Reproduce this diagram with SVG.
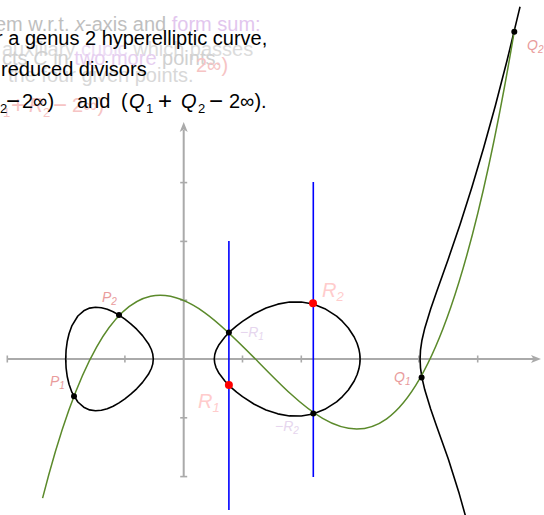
<svg xmlns="http://www.w3.org/2000/svg" width="544" height="515" viewBox="0 0 544 515">
<style>
.ax{stroke:#aaaaaa;stroke-width:2;fill:none}
.tk{stroke:#aaaaaa;stroke-width:1.6}
.arr{fill:#aaaaaa}
.crv{stroke:#000;stroke-width:1.6;fill:none;stroke-linejoin:round}
.cub{stroke:#5b8a2b;stroke-width:1.5;fill:none}
.vl{stroke:#0000ff;stroke-width:1.6}
.dot{fill:#000}
.red{fill:#ff0000}
.t{font-family:"Liberation Sans",Arial,sans-serif;font-size:20px}
.it{font-style:italic}
.sub{font-size:13px}
.op{font-size:24px}
.lb{font-family:"Liberation Sans",Arial,sans-serif;font-style:italic}
.pq{fill:#e99c9c;font-size:14px}
.rr{fill:#ffcccc;font-size:20px}
.mr{fill:#e6d6ee;font-size:14px}
</style>
<rect width="544" height="515" fill="#fff"/>

<g id="caption">
  <text class="t" x="-5" y="31" fill="#bfbfbf">em w.r.t. <tspan class="it">x</tspan>-axis and <tspan fill="#e2c6ee">form sum:</tspan></text>
  <text class="t" x="2" y="56" fill="#dcdcdc">auxiliary <tspan fill="#ecdcf4">cubic</tspan> which passes</text>
  <text class="t" x="2" y="65" fill="#d0d0d0">cts <tspan class="it">C</tspan> in <tspan fill="#e6cef0">two more</tspan> points.</text>
  <text class="t" x="8" y="82" fill="#d8d8d8">the four given points.</text>
  <text class="t" x="196" y="72" fill="#f6c4c4">2∞)</text>
  <g fill="#f6c4c4">
    <text class="t sub" x="3" y="117">1</text>
    <text class="t op" x="11" y="113">+</text>
    <text class="t it" x="29" y="112">R</text>
    <text class="t sub" x="43" y="117">2</text>
    <text class="t op" x="53" y="113">−</text>
    <text class="t" x="72" y="112">2∞)</text>
  </g>
  <text class="t" x="-4" y="45" fill="#000">r a genus 2 hyperelliptic curve,</text>
  <text class="t" x="1" y="76" fill="#000">reduced divisors</text>
  <g fill="#000">
    <text class="t sub" x="0" y="113">2</text>
    <text class="t op" x="6" y="109">−</text>
    <text class="t" x="22" y="108">2∞)</text>
    <text class="t" x="77" y="108">and</text>
    <text class="t" x="121" y="108">(</text>
    <text class="t it" x="129" y="108">Q</text>
    <text class="t sub" x="146" y="113">1</text>
    <text class="t op" x="158" y="109">+</text>
    <text class="t it" x="181" y="108">Q</text>
    <text class="t sub" x="198" y="113">2</text>
    <text class="t op" x="209" y="109">−</text>
    <text class="t" x="229" y="108">2∞).</text>
  </g>
</g>

<g id="axes">
  <line class="ax" x1="7.3" y1="359" x2="534" y2="359"/>
  <path class="arr" d="M541 359 L531 355 L533.5 359 L531 363 Z"/>
  <line class="ax" x1="183.7" y1="476.6" x2="183.7" y2="130"/>
  <path class="arr" d="M183.7 122 L179.7 132 L183.7 129.5 L187.7 132 Z"/>
  <g class="tk">
    <line x1="7.3" y1="355.5" x2="7.3" y2="362.5"/>
    <line x1="66.1" y1="355.5" x2="66.1" y2="362.5"/>
    <line x1="124.9" y1="355.5" x2="124.9" y2="362.5"/>
    <line x1="242.5" y1="355.5" x2="242.5" y2="362.5"/>
    <line x1="301.3" y1="355.5" x2="301.3" y2="362.5"/>
    <line x1="360.1" y1="355.5" x2="360.1" y2="362.5"/>
    <line x1="418.9" y1="355.5" x2="418.9" y2="362.5"/>
    <line x1="477.7" y1="355.5" x2="477.7" y2="362.5"/>
    <line x1="180.2" y1="182.6" x2="187.2" y2="182.6"/>
    <line x1="180.2" y1="241.4" x2="187.2" y2="241.4"/>
    <line x1="180.2" y1="300.2" x2="187.2" y2="300.2"/>
    <line x1="180.2" y1="417.8" x2="187.2" y2="417.8"/>
    <line x1="180.2" y1="476.6" x2="187.2" y2="476.6"/>
  </g>
</g>

<g id="connectors">
  <line id="vline1" class="vl" x1="228.9" y1="241" x2="228.9" y2="510"/>
  <line id="vline2" class="vl" x1="313.3" y1="182" x2="313.3" y2="477"/>
  <path id="oval-left" class="crv" d="M67.28 376.8 Q64.12 359 67.28 341.2 L69.04 333.7 L71.98 325.6 L77.86 316.0 L83.74 310.8 L89.62 308.1 L95.5 307.2 L101.38 307.7 L107.26 309.3 L113.14 311.8 L119.02 315.1 L124.9 319.1 L130.78 323.8 L136.66 329.2 L142.54 335.6 L148.42 343.7 L151.36 349.5 Q155.24 359 151.36 368.5 L148.42 374.3 L142.54 382.4 L136.66 388.8 L130.78 394.2 L124.9 398.9 L119.02 402.9 L113.14 406.2 L107.26 408.7 L101.38 410.3 L95.5 410.8 L89.62 409.9 L83.74 407.2 L77.86 402.0 L71.98 392.4 L69.04 384.3 Z"/>
  <path id="oval-mid" class="crv" d="M216.04 367.6 Q212.52 359 216.04 350.4 L218.98 344.65 L224.86 336.95 L230.74 330.92 L236.62 325.78 L242.5 321.31 L254.26 313.78 L266.02 308.08 L277.78 304.14 L289.54 302.08 L301.3 302.02 L313.06 304.08 L324.82 308.67 L336.58 316.19 L342.46 321.43 L348.34 328.01 L354.22 337.01 L357.16 343.48 L358.92 349.18 Q361.28 359 358.92 368.82 L357.16 374.52 L354.22 380.99 L348.34 389.99 L342.46 396.57 L336.58 401.81 L324.82 409.33 L313.06 413.92 L301.3 415.98 L289.54 415.92 L277.78 413.86 L266.02 409.92 L254.26 404.22 L242.5 396.69 L236.62 392.22 L230.74 387.08 L224.86 381.05 L218.98 373.35 Z"/>
  <path id="branch-right" class="crv" d="M469.5 530.4 L459.2 493.6 L448.3 459.1 L442.42 442.48 L436.54 425.94 L430.66 408.94 L424.78 389.85 L421.84 377.2 Q418.32 359 421.84 340.8 L424.78 328.15 L430.66 309.06 L436.54 292.06 L442.42 275.52 L448.3 258.9 L460.06 224.4 L471.82 187.6 L483.58 148.1 L495.34 105.8 L507.1 60.3 L518.86 11.6 L520.04 6.7"/>
  <path id="cubic" class="cub" d="M42.58 498.18 C199.97 -121.22 357.35 965.52 514.74 28.72"/>
</g>

<g id="points">
  <circle id="P1" class="dot" cx="74" cy="396.2" r="3"/>
  <circle id="P2" class="dot" cx="119" cy="315" r="3"/>
  <circle id="mR1" class="dot" cx="228.9" cy="332.5" r="3"/>
  <circle id="mR2" class="dot" cx="313.3" cy="413.6" r="3"/>
  <circle id="Q1" class="dot" cx="421.6" cy="377.5" r="3"/>
  <circle id="Q2" class="dot" cx="514.3" cy="31.8" r="3"/>
  <circle id="R1" class="red" cx="228.9" cy="385" r="4"/>
  <circle id="R2" class="red" cx="313" cy="303.3" r="4"/>
</g>

<g id="labels">
  <text class="lb pq" x="50" y="386">P<tspan font-size="10" dy="3">1</tspan></text>
  <text class="lb pq" x="102" y="302">P<tspan font-size="10" dy="3">2</tspan></text>
  <text class="lb pq" x="394" y="382">Q<tspan font-size="10" dy="3">1</tspan></text>
  <text class="lb pq" x="527" y="50">Q<tspan font-size="10" dy="3">2</tspan></text>
  <text class="lb rr" x="198" y="408">R<tspan font-size="13" dy="4">1</tspan></text>
  <text class="lb rr" x="322" y="297">R<tspan font-size="13" dy="4">2</tspan></text>
  <text class="lb mr" x="240" y="337"><tspan font-style="normal">−</tspan>R<tspan font-size="10" dy="3">1</tspan></text>
  <text class="lb mr" x="275" y="431"><tspan font-style="normal">−</tspan>R<tspan font-size="10" dy="3">2</tspan></text>
</g>
</svg>
